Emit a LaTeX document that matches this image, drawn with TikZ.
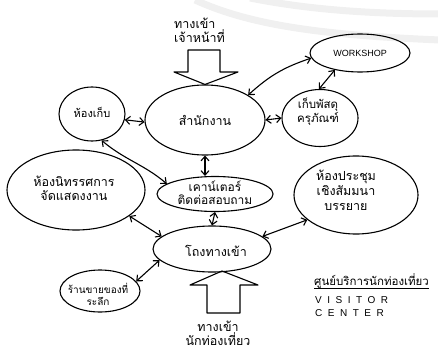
\documentclass[tikz,border=0pt]{standalone}
\usepackage{fontspec}
\setmainfont{Liberation Sans}
\newfontfamily\thai[Script=Thai]{Loma}
\usetikzlibrary{shapes.geometric,arrows.meta}
\tikzset{
  room/.style={draw, ellipse, line width=1.1pt, inner sep=0pt},
  lbl/.style={font=\thai\fontsize{12.5}{14}\selectfont, align=center, inner sep=0pt},
  conn/.style={line width=1.1pt, {Straight Barb[length=4.5pt,width=8pt]}-{Straight Barb[length=4.5pt,width=8pt]}},
  blockarrow/.style={draw, line width=1.1pt, line join=round},
  wm/.style={gray!12, line width=7pt},
  caps/.style={font=\fontsize{10}{11}\selectfont\addfontfeatures{LetterSpace=55}, anchor=west, inner sep=0pt}
}
\begin{document}
\begin{tikzpicture}[x=1pt,y=-1pt]
\useasboundingbox (0,0) rectangle (438,350);
% faint watermark arcs
\draw[wm] (195,0) .. controls (250,25) and (320,35) .. (440,40);
\draw[wm] (250,-2) .. controls (300,8) and (360,14) .. (440,14);

% rooms
\node[room, minimum width=120pt, minimum height=70pt] (office) at (205,120) {};
\node[room, minimum width=100pt, minimum height=38pt] (workshop) at (360,53) {};
\node[room, minimum width=66pt, minimum height=54pt] (store) at (92,114) {};
\node[room, minimum width=76pt, minimum height=57pt] (parcel) at (320,118) {};
\node[room, minimum width=138pt, minimum height=80pt] (exhibit) at (76,190) {};
\node[room, minimum width=116pt, minimum height=35pt] (counter) at (215,194) {};
\node[room, minimum width=124pt, minimum height=78pt] (meeting) at (356,195) {};
\node[room, minimum width=118pt, minimum height=46pt] (hall) at (212,249) {};
\node[room, minimum width=80pt, minimum height=42pt] (souvenir) at (100,291) {};

% labels
\node[lbl] (officeT) at (office.center) {สำนักงาน};
\node[font=\fontsize{9}{10}\selectfont, inner sep=0pt] (workshopT) at (workshop.center) {WORKSHOP};
\node[lbl, font=\thai\fontsize{11}{13}\selectfont] (storeT) at ([yshift=2pt]store.center) {ห้องเก็บ};
\node[lbl, font=\thai\fontsize{11.5}{13}\selectfont] (parcelT) at ([xshift=-2pt,yshift=6pt]parcel.center) {เก็บพัสดุ\\ครุภัณฑ์};
\node[lbl] (exhibitT) at ([xshift=-2pt,yshift=2pt]exhibit.center) {ห้องนิทรรศการ\\จัดแสดงงาน};
\node[lbl, font=\thai\fontsize{12}{13}\selectfont] (counterT) at ([yshift=1pt]counter.center) {เคาน์เตอร์\\ติดต่อสอบถาม};
\node[lbl, font=\thai\fontsize{12.5}{15}\selectfont] (meetingT) at ([xshift=-10pt,yshift=5pt]meeting.center) {ห้องประชุม\\เชิงสัมมนา\\บรรยาย};
\node[lbl] (hallT) at ([xshift=4pt,yshift=-2pt]hall.center) {โถงทางเข้า};
\node[lbl, font=\thai\fontsize{10}{12}\selectfont] (souvenirT) at ([xshift=-2pt,yshift=-3pt]souvenir.center) {ร้านขายของที่\\ระลึก};

% entrance texts
\node[lbl, align=left, anchor=west] (staffT) at (174,30) {ทางเข้า\\เจ้าหน้าที่};
\node[lbl] (visitT) at (218,333) {ทางเข้า\\นักท่องเที่ยว};

% block arrows
\coordinate (topTip) at (office.north);
\draw[blockarrow] (188,50) -- (220,50) -- (220,72) -- (238,72) -- (topTip) -- (174,72) -- (188,72) -- cycle;
\coordinate (botTip) at (222,271);
\draw[blockarrow] (botTip) -- (258,285) -- (240,285) -- (240,313) -- (207,313) -- (207,285) -- (190,285) -- cycle;

% connectors
\draw[conn] (office.30) to[bend left=12] (workshop.186);
\draw[conn] (workshop.214) -- (parcel.92);
\draw[conn] (office.east) -- (parcel.west);
\draw[conn] (store.350) -- (office.182);
\draw[conn] (store.-70) to[out=-40,in=140] (counter.168);
\draw[conn] (office.south) -- (office.south |- counter.north);
\draw[conn] (counter.south) -- (hall.north);
\draw[conn] (exhibit.-26) -- (hall.166);
\draw[conn] (meeting.207) -- (hall.14);
\draw[conn] (souvenir.15) -- (hall.192);

% visitor center legend
\node[lbl, font=\thai\fontsize{11.5}{13}\selectfont, anchor=west] (vcThai) at (314,281) {ศูนย์บริการนักท่องเที่ยว};
\draw[line width=0.9pt] (vcThai.south west) -- (vcThai.south east);
\node[caps] (vcVis) at (315,300) {VISITOR};
\node[caps] (vcCen) at (315,313) {CENTER};
\end{tikzpicture}
\end{document}
